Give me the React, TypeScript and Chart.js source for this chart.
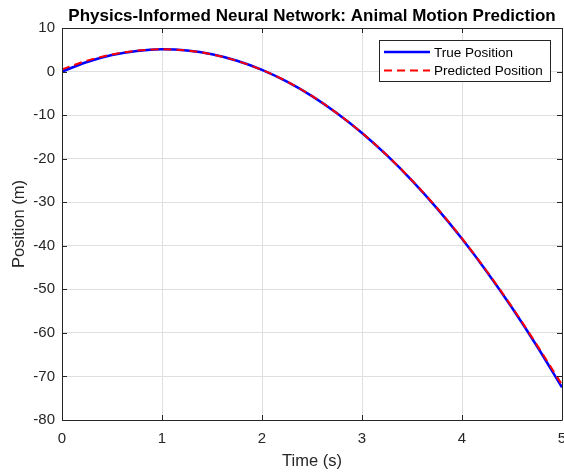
import React, { useEffect, useRef } from "react";
import { Chart, registerables } from "chart.js";

Chart.register(...registerables);

const timeValues = [0, 0.25, 0.5, 0.75, 1, 1.25, 1.5, 1.75, 2, 2.25, 2.5, 2.75, 3, 3.25, 3.5, 3.75, 4, 4.25, 4.5, 4.75, 5];
const truePosition = [0, 2.19, 3.78, 4.74, 5.1, 4.84, 3.98, 2.49, 0.4, -2.31, -5.63, -9.56, -14.1, -19.26, -25.03, -31.41, -38.4, -46.01, -54.23, -63.06, -72.5];
const predictedPosition = [0.5, 2.5, 3.92, 4.8, 5.1, 4.86, 3.96, 2.45, 0.38, -2.3, -5.6, -9.58, -14.1, -19.22, -24.98, -31.32, -38.3, -45.9, -54.05, -62.8, -71.9];
const xTicks = [0, 1, 2, 3, 4, 5];
const yTicks = [-80, -70, -60, -50, -40, -30, -20, -10, 0, 10];
const seriesLabels = ["True Position", "Predicted Position"];
const chartTitle = "Physics-Informed Neural Network: Animal Motion Prediction";

const FONT = "'Liberation Sans', Arial, Helvetica, sans-serif";
const AXIS_COLOR = "#262626";

const boxPlugin = {
  id: "matlabBox",
  afterDatasetsDraw(chart: any) {
    const { ctx, chartArea } = chart;
    const { left, right, top, bottom } = chartArea;
    const xs = chart.scales.x;
    const ys = chart.scales.y;
    ctx.save();
    ctx.strokeStyle = AXIS_COLOR;
    ctx.lineWidth = 1;
    ctx.beginPath();
    ctx.rect(Math.round(left) + 0.5, Math.round(top) + 0.5, Math.round(right - left), Math.round(bottom - top));
    ctx.stroke();
    const tl = 5;
    ctx.beginPath();
    xTicks.forEach((v) => {
      const px = Math.round(xs.getPixelForValue(v)) + 0.5;
      ctx.moveTo(px, bottom);
      ctx.lineTo(px, bottom - tl);
      ctx.moveTo(px, top);
      ctx.lineTo(px, top + tl);
    });
    yTicks.forEach((v) => {
      const py = Math.round(ys.getPixelForValue(v)) + 0.5;
      ctx.moveTo(left, py);
      ctx.lineTo(left + tl, py);
      ctx.moveTo(right, py);
      ctx.lineTo(right - tl, py);
    });
    ctx.stroke();
    ctx.restore();
  },
  afterDraw(chart: any) {
    const { ctx, chartArea } = chart;
    ctx.save();
    // title
    ctx.fillStyle = "#000";
    ctx.font = `bold 17px ${FONT}`;
    ctx.textAlign = "center";
    ctx.textBaseline = "alphabetic";
    ctx.fillText(chartTitle, (chartArea.left + chartArea.right) / 2, 21);
    // legend
    const bx = 379.5, by = 40.5, bw = 171, bh = 41;
    ctx.fillStyle = "#fff";
    ctx.fillRect(bx, by, bw, bh);
    ctx.strokeStyle = AXIS_COLOR;
    ctx.lineWidth = 1;
    ctx.strokeRect(bx, by, bw, bh);
    const rows = [52, 70.5];
    chart.data.datasets.forEach((ds: any, i: number) => {
      ctx.strokeStyle = ds.borderColor;
      ctx.lineWidth = ds.borderWidth;
      ctx.setLineDash(ds.borderDash || []);
      ctx.beginPath();
      ctx.moveTo(384, rows[i]);
      ctx.lineTo(430, rows[i]);
      ctx.stroke();
      ctx.setLineDash([]);
      ctx.fillStyle = "#000";
      ctx.font = `13.5px ${FONT}`;
      ctx.textAlign = "left";
      ctx.textBaseline = "middle";
      ctx.fillText(ds.label, 434, rows[i] + 1);
    });
    ctx.restore();
  },
};

export default function App() {
  const canvasRef = useRef<HTMLCanvasElement | null>(null);

  useEffect(() => {
    document.body.style.margin = "0";
    const canvas = canvasRef.current;
    if (!canvas) return;
    const chart = new Chart(canvas, {
      type: "line",
      data: {
        datasets: [
          {
            label: seriesLabels[0],
            data: timeValues.map((t, i) => ({ x: t, y: truePosition[i] })),
            borderColor: "#0000ff",
            borderWidth: 2.5,
            pointRadius: 0,
            fill: false,
            cubicInterpolationMode: "monotone",
            order: 1,
          },
          {
            label: seriesLabels[1],
            data: timeValues.map((t, i) => ({ x: t, y: predictedPosition[i] })),
            borderColor: "#ff0000",
            borderWidth: 2,
            borderDash: [8, 5],
            pointRadius: 0,
            fill: false,
            cubicInterpolationMode: "monotone",
            order: 0,
          },
        ],
      },
      plugins: [boxPlugin],
      options: {
        animation: false,
        responsive: false,
        maintainAspectRatio: false,
        layout: { padding: { top: 28, right: 2, left: 0, bottom: 0 } },
        plugins: {
          legend: { display: false },
          title: { display: false },
          tooltip: { enabled: false },
        },
        scales: {
          x: {
            type: "linear",
            min: 0,
            max: 5,
            afterBuildTicks: (scale: any) => {
              scale.ticks = xTicks.map((v) => ({ value: v }));
            },
            afterFit: (scale: any) => {
              scale.height = 54;
              scale.paddingLeft = 0;
              scale.paddingRight = 0;
            },
            ticks: {
              padding: 10,
              color: AXIS_COLOR,
              font: { family: FONT, size: 15 },
              maxRotation: 0,
              autoSkip: false,
            },
            grid: { color: "#dfdfdf", drawTicks: false },
            border: { display: false },
            title: {
              display: true,
              text: "Time (s)",
              color: AXIS_COLOR,
              font: { family: FONT, size: 16.5 },
              padding: { top: 0, bottom: 3 },
            },
          },
          y: {
            type: "linear",
            min: -80,
            max: 10,
            afterBuildTicks: (scale: any) => {
              scale.ticks = yTicks.map((v) => ({ value: v }));
            },
            afterFit: (scale: any) => {
              scale.width = 62;
              scale.paddingTop = 0;
              scale.paddingBottom = 0;
            },
            ticks: {
              padding: 7,
              color: AXIS_COLOR,
              font: { family: FONT, size: 15 },
              autoSkip: false,
            },
            grid: { color: "#dfdfdf", drawTicks: false },
            border: { display: false },
            title: {
              display: true,
              text: "Position (m)",
              color: AXIS_COLOR,
              font: { family: FONT, size: 16.5 },
              padding: { top: 10, bottom: 0 },
            },
          },
        },
      },
    });
    return () => chart.destroy();
  }, []);

  return (
    <div style={{ position: "absolute", left: 0, top: 0, width: 564, height: 474 }}>
      <canvas ref={canvasRef} width={564} height={474} style={{ display: "block", width: 564, height: 474 }} />
    </div>
  );
}
